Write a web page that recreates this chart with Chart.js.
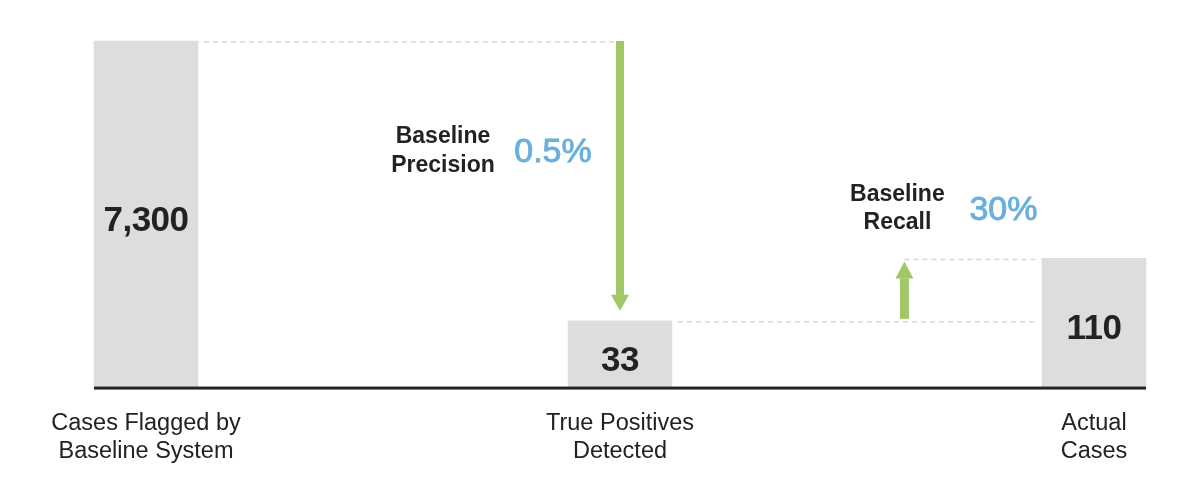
<!DOCTYPE html>
<html>
<head>
<meta charset="utf-8">
<script src="https://cdn.jsdelivr.net/npm/chart.js@4.4.0/dist/chart.umd.min.js"></script>
<style>
  html, body { margin: 0; background: #fff; }
</style>
</head>
<body>
<canvas id="chart" width="1200" height="504"></canvas>
<script>
const categories = [["Cases Flagged by", "Baseline System"], ["True Positives", "Detected"], ["Actual", "Cases"]];
const counts = [7300, 33, 110];
const countLabels = ["7,300", "33", "110"];
const precisionLabel = ["Baseline", "Precision"];
const precisionValue = "0.5%";
const recallLabel = ["Baseline", "Recall"];
const recallValue = "30%";

const FONT = '"Liberation Sans", "Helvetica Neue", Arial, sans-serif';
const DARK = "#222222";
const GREEN = "#a2c866";
const BLUE = "#6aafdd";
const DASH = "#d6d6d6";

function arrow(ctx, x, from, to, shaft, head, headLen) {
    const dir = to > from ? 1 : -1;
    const neck = to - dir * headLen;
    ctx.fillStyle = GREEN;
    ctx.fillRect(x - shaft / 2, Math.min(from, neck), shaft, Math.abs(neck - from));
    ctx.beginPath();
    ctx.moveTo(x - head / 2, neck);
    ctx.lineTo(x + head / 2, neck);
    ctx.lineTo(x, to);
    ctx.closePath();
    ctx.fill();
}

function dashed(ctx, x1, x2, y) {
    ctx.save();
    ctx.strokeStyle = DASH;
    ctx.lineWidth = 1.5;
    ctx.setLineDash([5, 4]);
    ctx.beginPath();
    ctx.moveTo(x1, y);
    ctx.lineTo(x2, y);
    ctx.stroke();
    ctx.restore();
}

// medium weight look: fill plus a thin stroke
function mediumText(ctx, text, x, y) {
    ctx.fillText(text, x, y);
    ctx.strokeStyle = ctx.fillStyle;
    ctx.lineWidth = 0.9;
    ctx.strokeText(text, x, y);
}

const annotations = {
    id: "annotations",
    afterDatasetsDraw(chart) {
        const ctx = chart.ctx;
        const xs = chart.scales.x;
        const ys = chart.scales.y;
        const bars = chart.getDatasetMeta(0).data;
        const w = bars[0].width;

        const yTop = ys.getPixelForValue(counts[0]);
        const yTp = ys.getPixelForValue(counts[1]);
        const yAct = ys.getPixelForValue(counts[2]);
        const a1 = bars[1].x;
        const a2 = xs.getPixelForDecimal(0.8);

        // baseline
        ctx.save();
        ctx.fillStyle = DARK;
        ctx.fillRect(bars[0].x - w / 2, ys.bottom - 0.5, bars[2].x - bars[0].x + w, 3);

        // dashed guides
        dashed(ctx, bars[0].x + w / 2 + 6, a1 - 4, yTop + 1);
        dashed(ctx, bars[1].x + w / 2 + 6, bars[2].x - w / 2 - 6, yTp + 1);
        dashed(ctx, a2, bars[2].x - w / 2 - 6, yAct + 1);

        // arrows
        arrow(ctx, a1, yTop, yTp - 10, 8, 18, 16);
        arrow(ctx, a2, yTp - 2, yAct + 3, 9, 18, 17);

        // value labels in bars
        ctx.fillStyle = DARK;
        ctx.textAlign = "center";
        ctx.textBaseline = "middle";
        ctx.font = "bold 35px " + FONT;
        ctx.letterSpacing = "-0.5px";
        bars.forEach((b, i) => {
            ctx.fillText(countLabels[i], b.x, (b.y + b.base) / 2 + 7);
        });

        // precision note
        ctx.font = "bold 23px " + FONT;
        ctx.letterSpacing = "0px";
        ctx.fillText(precisionLabel[0], a1 - 177, yTop + 96);
        ctx.fillText(precisionLabel[1], a1 - 177, yTop + 125);
        ctx.fillStyle = BLUE;
        ctx.font = "34px " + FONT;
        mediumText(ctx, precisionValue, a1 - 67, yTop + 112);

        // recall note
        ctx.fillStyle = DARK;
        ctx.font = "bold 23px " + FONT;
        ctx.fillText(recallLabel[0], a2 - 7, yAct - 64);
        ctx.fillText(recallLabel[1], a2 - 7, yAct - 36);
        ctx.fillStyle = BLUE;
        ctx.font = "34px " + FONT;
        mediumText(ctx, recallValue, a2 + 99, yAct - 48);
        ctx.restore();
    }
};

new Chart(document.getElementById("chart"), {
    type: "bar",
    data: {
        labels: categories,
        datasets: [{
            data: counts,
            backgroundColor: "#dddddd",
            barThickness: 104,
            clip: false
        }]
    },
    options: {
        responsive: false,
        animation: false,
        layout: { padding: { left: 146, right: 106, top: 41, bottom: 25 } },
        plugins: { legend: { display: false }, tooltip: { enabled: false } },
        scales: {
            x: {
                offset: false,
                grid: { display: false },
                border: { display: false },
                ticks: {
                    color: DARK,
                    padding: 14,
                    maxRotation: 0,
                    autoSkip: false,
                    font: { family: FONT, size: 23.5, lineHeight: 1.19 }
                }
            },
            y: {
                type: "logarithmic",
                display: false,
                min: 9.2,
                max: 7300
            }
        }
    },
    plugins: [annotations]
});
</script>
</body>
</html>
